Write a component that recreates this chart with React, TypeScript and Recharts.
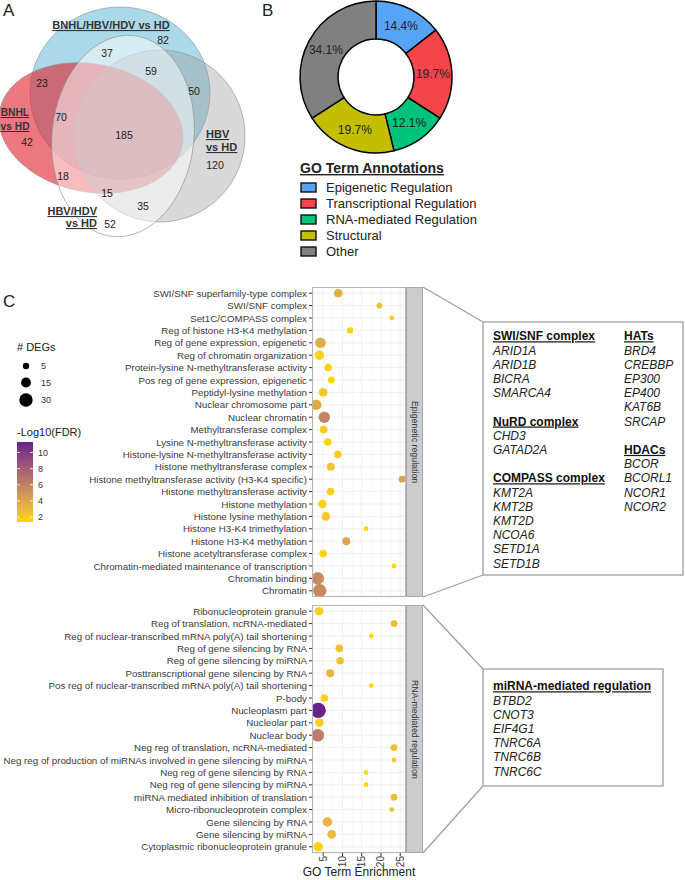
import React from 'react';
import {
  ScatterChart, Scatter, XAxis, YAxis, ZAxis, CartesianGrid, ReferenceLine, Cell,
  PieChart, Pie,
} from 'recharts';

const FONT = '"Liberation Sans", Arial, Helvetica, sans-serif';

// ---- Panel A: Venn diagram ----
const VENN_SETS = ['BNHL/HBV/HDV vs HD', 'BNHL vs HD', 'HBV vs HD', 'HBV/HDV vs HD'];
// region counts, in reading order
const VENN_COUNTS = [82, 37, 59, 23, 50, 70, 185, 42, 120, 18, 15, 35, 52];

// ---- Panel B: GO annotations donut ----
const GO_CATEGORIES = ['Epigenetic Regulation', 'Transcriptional Regulation', 'RNA-mediated Regulation', 'Structural', 'Other'];
const GO_PERCENT = [14.4, 19.7, 12.1, 19.7, 34.1];

// ---- Panel C: GO term dot plot ----
const EPI_TERMS = [
  'SWI/SNF superfamily-type complex',
  'SWI/SNF complex',
  'Set1C/COMPASS complex',
  'Reg of histone H3-K4 methylation',
  'Reg of gene expression, epigenetic',
  'Reg of chromatin organization',
  'Protein-lysine N-methyltransferase activity',
  'Pos reg of gene expression, epigenetic',
  'Peptidyl-lysine methylation',
  'Nuclear chromosome part',
  'Nuclear chromatin',
  'Methyltransferase complex',
  'Lysine N-methyltransferase activity',
  'Histone-lysine N-methyltransferase activity',
  'Histone methyltransferase complex',
  'Histone methyltransferase activity (H3-K4 specific)',
  'Histone methyltransferase activity',
  'Histone methylation',
  'Histone lysine methylation',
  'Histone H3-K4 trimethylation',
  'Histone H3-K4 methylation',
  'Histone acetyltransferase complex',
  'Chromatin-mediated maintenance of transcription',
  'Chromatin binding',
  'Chromatin',
];
const EPI_ENRICH = [8.9, 19.6, 22.8, 12.0, 4.3, 4.0, 6.3, 7.1, 5.0, 3.2, 5.3, 5.1, 6.2, 8.8, 7.0, 25.5, 6.9, 4.8, 5.7, 16.1, 11.0, 5.0, 23.4, 3.6, 4.1];
const EPI_DEGS = [11, 4, 2, 5, 18, 14, 8, 6, 11, 18, 21, 9, 8, 8, 9, 6, 8, 11, 11, 2, 9, 8, 2, 26, 30];
const EPI_FDR = [3.5, 2.5, 2.2, 1.7, 3.6, 1.6, 1.7, 1.4, 2.2, 3.8, 5.8, 2.2, 1.6, 2.0, 2.5, 4.3, 1.8, 1.7, 2.2, 1.4, 4.0, 1.6, 1.4, 5.5, 5.6];

const RNA_TERMS = [
  'Ribonucleoprotein granule',
  'Reg of translation, ncRNA-mediated',
  'Reg of nuclear-transcribed mRNA poly(A) tail shortening',
  'Reg of gene silencing by RNA',
  'Reg of gene silencing by miRNA',
  'Posttranscriptional gene silencing by RNA',
  'Pos reg of nuclear-transcribed mRNA poly(A) tail shortening',
  'P-body',
  'Nucleoplasm part',
  'Nucleolar part',
  'Nuclear body',
  'Neg reg of translation, ncRNA-mediated',
  'Neg reg of production of miRNAs involved in gene silencing by miRNA',
  'Neg reg of gene silencing by RNA',
  'Neg reg of gene silencing by miRNA',
  'miRNA mediated inhibition of translation',
  'Micro-ribonucleoprotein complex',
  'Gene silencing by RNA',
  'Gene silencing by miRNA',
  'Cytoplasmic ribonucleoprotein granule',
];
const RNA_ENRICH = [3.9, 23.4, 17.5, 9.2, 9.4, 6.8, 17.5, 5.3, 3.7, 4.0, 3.6, 23.4, 23.4, 16.1, 16.1, 23.4, 22.8, 6.1, 7.2, 3.7];
const RNA_DEGS = [11, 6, 2, 8, 8, 9, 2, 8, 40, 11, 26, 6, 2, 2, 2, 6, 2, 14, 11, 14];
const RNA_FDR = [1.9, 2.7, 1.4, 2.5, 2.5, 3.1, 1.4, 1.6, 11.3, 1.8, 6.3, 2.7, 2.2, 1.4, 1.4, 2.7, 2.6, 3.2, 3.0, 1.6];

const X_TICKS = [5, 10, 15, 20, 25];
const X_MINOR = [2.5, 7.5, 12.5, 17.5, 22.5];
const DEG_LEGEND = [5, 15, 30];
const FDR_LEGEND = [2, 4, 6, 8, 10];

const EPI_GENES_LEFT = [
  { title: 'SWI/SNF complex', genes: ['ARID1A', 'ARID1B', 'BICRA', 'SMARCA4'] },
  { title: 'NuRD complex', genes: ['CHD3', 'GATAD2A'] },
  { title: 'COMPASS complex', genes: ['KMT2A', 'KMT2B', 'KMT2D', 'NCOA6', 'SETD1A', 'SETD1B'] },
];
const EPI_GENES_RIGHT = [
  { title: 'HATs', genes: ['BRD4', 'CREBBP', 'EP300', 'EP400', 'KAT6B', 'SRCAP'] },
  { title: 'HDACs', genes: ['BCOR', 'BCORL1', 'NCOR1', 'NCOR2'] },
];
const RNA_GENES = [
  { title: 'miRNA-mediated regulation', genes: ['BTBD2', 'CNOT3', 'EIF4G1', 'TNRC6A', 'TNRC6B', 'TNRC6C'] },
];

// styling / layout
const GO_COLORS = ['#56A4F6', '#F5444A', '#00C27A', '#C4BE00', '#808080'];
const VENN_LABEL_POS = [
  [163, 40], [107, 53], [151, 71], [42, 83], [194, 91], [61, 117], [124, 135],
  [27, 142], [215, 165], [63, 176], [107, 193], [143, 206], [110, 224],
];
const PLOT_LEFT = 312;
const PLOT_RIGHT = 406;
const CHART_W = 425;
const X_DOMAIN = [2.1, 26.5];
const Z_DOMAIN = [0, 45];
const Z_RANGE = [10, 207];

// ggplot-like gradient (gold -> darkorchid4) interpolated in CIELAB
const LOW_RGB = [255, 215, 0];
const HIGH_RGB = [104, 34, 139];
const lin = (c: number) => { c /= 255; return c <= 0.04045 ? c / 12.92 : Math.pow((c + 0.055) / 1.055, 2.4); };
const unlin = (c: number) => {
  const v = c <= 0.0031308 ? 12.92 * c : 1.055 * Math.pow(c, 1 / 2.4) - 0.055;
  return Math.round(Math.max(0, Math.min(1, v)) * 255);
};
function toLab(rgb: number[]) {
  const [r, g, b] = rgb.map(lin);
  const x = (0.4124 * r + 0.3576 * g + 0.1805 * b) / 0.95047;
  const y = 0.2126 * r + 0.7152 * g + 0.0722 * b;
  const z = (0.0193 * r + 0.1192 * g + 0.9505 * b) / 1.08883;
  const f = (t: number) => (t > 0.008856 ? Math.cbrt(t) : 7.787 * t + 16 / 116);
  return [116 * f(y) - 16, 500 * (f(x) - f(y)), 200 * (f(y) - f(z))];
}
function fromLab([L, a, bb]: number[]) {
  const fy = (L + 16) / 116;
  const fx = fy + a / 500;
  const fz = fy - bb / 200;
  const inv = (t: number) => (t * t * t > 0.008856 ? t * t * t : (t - 16 / 116) / 7.787);
  const x = inv(fx) * 0.95047, y = inv(fy), z = inv(fz) * 1.08883;
  const r = 3.2406 * x - 1.5372 * y - 0.4986 * z;
  const g = -0.9689 * x + 1.8758 * y + 0.0415 * z;
  const b = 0.0557 * x - 0.204 * y + 1.057 * z;
  return `rgb(${unlin(r)},${unlin(g)},${unlin(b)})`;
}
const LOW_LAB = toLab(LOW_RGB);
const HIGH_LAB = toLab(HIGH_RGB);
const ALL_FDR = [...EPI_FDR, ...RNA_FDR];
const FDR_MIN = Math.min(...ALL_FDR) - 0.02;
const FDR_MAX = Math.max(...ALL_FDR);
function fdrColor(v: number) {
  const t = Math.max(0, Math.min(1, (v - FDR_MIN) / (FDR_MAX - FDR_MIN)));
  return fromLab(LOW_LAB.map((c, i) => c + (HIGH_LAB[i] - c) * t));
}
// same mapping as the ZAxis (linear in area), used for the size legend
const degRadius = (n: number) =>
  Math.sqrt((Z_RANGE[0] + ((Z_RANGE[1] - Z_RANGE[0]) * (n - Z_DOMAIN[0])) / (Z_DOMAIN[1] - Z_DOMAIN[0])) / Math.PI);

const epiData = EPI_TERMS.map((term, i) => ({ term, enrich: EPI_ENRICH[i], degs: EPI_DEGS[i], fdr: EPI_FDR[i] }));
const rnaData = RNA_TERMS.map((term, i) => ({ term, enrich: RNA_ENRICH[i], degs: RNA_DEGS[i], fdr: RNA_FDR[i] }));
const goData = GO_CATEGORIES.map((name, i) => ({ name, value: GO_PERCENT[i] }));

function RotatedTick(props: any) {
  const { x, y, payload } = props;
  const yy = y - 2;
  return (
    <text x={x} y={yy} transform={`rotate(-90 ${x} ${yy})`} textAnchor="end" dominantBaseline="central"
      fontSize={10} fill="#3D3D3D" fontFamily={FONT}>
      {payload.value}
    </text>
  );
}

function TermTick(props: any) {
  const { x, y, payload } = props;
  return (
    <text x={x} y={y} textAnchor="end" dominantBaseline="central" fontSize={9.75} fill="#3A3A3A" fontFamily={FONT}>
      {payload.value}
    </text>
  );
}

function Facet({ data, top, plotHeight, showX, strip }: any) {
  const axisH = showX ? 26 : 0;
  return (
    <>
      <div style={{ position: 'absolute', left: 0, top }}>
        <ScatterChart width={CHART_W} height={plotHeight + axisH}
          margin={{ top: 0, right: CHART_W - PLOT_RIGHT, bottom: 0, left: 0 }}>
          <CartesianGrid vertical={false} stroke="#EBEBEB" strokeWidth={0.8} />
          {X_MINOR.map((v) => <ReferenceLine key={'m' + v} x={v} stroke="#F2F2F2" strokeWidth={0.6} />)}
          {X_TICKS.map((v) => <ReferenceLine key={'t' + v} x={v} stroke="#EBEBEB" strokeWidth={0.8} />)}
          <XAxis type="number" dataKey="enrich" domain={X_DOMAIN} ticks={X_TICKS} interval={0} allowDataOverflow
            hide={!showX} height={axisH} tickSize={3} axisLine={false} tickLine={{ stroke: '#333' }}
            tick={<RotatedTick />}
            label={{ value: 'GO Term Enrichment', position: 'insideBottom', offset: 3.5, fill: '#222', fontSize: 12, fontFamily: FONT }} />
          <YAxis type="category" dataKey="term" width={PLOT_LEFT} reversed interval={0} tickSize={3}
            axisLine={false} tickLine={{ stroke: '#333' }} tick={<TermTick />} />
          <ZAxis type="number" dataKey="degs" domain={Z_DOMAIN} range={Z_RANGE} />
          <Scatter data={data} isAnimationActive={false} shape="circle">
            {data.map((d: any, i: number) => <Cell key={i} fill={fdrColor(d.fdr)} />)}
          </Scatter>
        </ScatterChart>
      </div>
      <div style={{ position: 'absolute', left: PLOT_LEFT, top, width: PLOT_RIGHT - PLOT_LEFT, height: plotHeight,
        border: '1px solid #B5B5B5', boxSizing: 'border-box' }} />
      <div style={{ position: 'absolute', left: PLOT_RIGHT, top, width: 17, height: plotHeight, background: '#CCCCCC',
        border: '1px solid #A8A8A8', boxSizing: 'border-box', display: 'flex', alignItems: 'center', justifyContent: 'center' }}>
        <span style={{ writingMode: 'vertical-rl', fontSize: 8.8, color: '#333', whiteSpace: 'nowrap' }}>{strip}</span>
      </div>
    </>
  );
}

function GeneColumn({ groups, x, y0, step }: any) {
  const rows: any[] = [];
  let line = 0;
  groups.forEach((g: any, gi: number) => {
    rows.push(
      <text key={'t' + gi} x={x} y={y0 + line * step} fontSize={12} fontWeight="bold" textDecoration="underline" fill="#111">{g.title}</text>,
    );
    line += 1;
    g.genes.forEach((gene: string) => {
      rows.push(<text key={gene} x={x} y={y0 + line * step} fontSize={12} fontStyle="italic" fill="#222">{gene}</text>);
      line += 1;
    });
    line += 1;
  });
  return <>{rows}</>;
}

function Overlay() {
  const ellStroke = '#8C8C8C';
  return (
    <svg width={685} height={880} style={{ position: 'absolute', left: 0, top: 0 }} fontFamily={FONT}>
      {/* panel letters */}
      <text x={3} y={16} fontSize={17} fill="#222">A</text>
      <text x={262} y={16} fontSize={17} fill="#222">B</text>
      <text x={3} y={307} fontSize={17} fill="#222">C</text>

      {/* Venn */}
      <ellipse cx={120} cy={93} rx={90} ry={86} fill="#5AB4D3" fillOpacity={0.5} stroke={ellStroke} strokeWidth={0.6} />
      <ellipse cx={91} cy={128} rx={93} ry={64} transform="rotate(11 91 128)" fill="#E0202B" fillOpacity={0.6} stroke={ellStroke} strokeWidth={0.6} />
      <ellipse cx={160} cy={136} rx={85} ry={86} fill="#9A9A9A" fillOpacity={0.38} stroke={ellStroke} strokeWidth={0.6} />
      <ellipse cx={123} cy={136} rx={71} ry={101} transform="rotate(6 123 136)" fill="#FFFFFF" fillOpacity={0.5} stroke={ellStroke} strokeWidth={0.6} />
      {VENN_COUNTS.map((c, i) => (
        <text key={i} x={VENN_LABEL_POS[i][0]} y={VENN_LABEL_POS[i][1] + 4} textAnchor="middle" fontSize={10.5} fill="#222">{c}</text>
      ))}
      <g fontSize={11} fontWeight="bold" fill="#333" textDecoration="underline">
        <text x={111} y={29} textAnchor="middle">{VENN_SETS[0]}</text>
        <text x={206} y={138}>{VENN_SETS[2].split(' vs ')[0]}</text>
        <text x={206} y={151}>vs HD</text>
        <text x={97} y={215} textAnchor="end">{VENN_SETS[3].split(' vs ')[0]}</text>
        <text x={97} y={227} textAnchor="end">vs HD</text>
      </g>
      <g fontSize={10.2} fontWeight="bold" fill="#333" textDecoration="underline">
        <text x={29} y={116} textAnchor="end">{VENN_SETS[1].split(' vs ')[0]}</text>
        <text x={29.5} y={130} textAnchor="end">vs HD</text>
      </g>

      {/* GO annotation legend */}
      <text x={300} y={173} fontSize={14} fontWeight="bold" textDecoration="underline" fill="#222">GO Term Annotations</text>
      {GO_CATEGORIES.map((name, i) => (
        <g key={name}>
          <rect x={301} y={183 + i * 16} width={15} height={9} fill={GO_COLORS[i]} stroke="#111" strokeWidth={1.4} />
          <text x={326} y={192 + i * 16} fontSize={13} fill="#222">{name}</text>
        </g>
      ))}

      {/* size legend */}
      <text x={17} y={351} fontSize={11} fill="#222"># DEGs</text>
      {DEG_LEGEND.map((n, i) => (
        <g key={n}>
          <circle cx={26} cy={[366, 382.5, 400][i]} r={degRadius(n)} fill="#000" />
          <text x={41} y={[366, 382.5, 400][i] + 3.2} fontSize={9} fill="#333">{n}</text>
        </g>
      ))}

      {/* colour legend */}
      <defs>
        <linearGradient id="fdrbar" x1="0" y1="0" x2="0" y2="1">
          {Array.from({ length: 11 }, (_, k) => (
            <stop key={k} offset={k / 10} stopColor={fdrColor(FDR_MAX - ((FDR_MAX - FDR_MIN) * k) / 10)} />
          ))}
        </linearGradient>
      </defs>
      <text x={17} y={435.5} fontSize={11} fill="#222">-Log10(FDR)</text>
      <rect x={17} y={442} width={16} height={80} fill="url(#fdrbar)" />
      {FDR_LEGEND.map((v) => {
        const y = 442 + ((FDR_MAX - v) / (FDR_MAX - FDR_MIN)) * 80;
        return (
          <g key={v}>
            <line x1={17} x2={20} y1={y} y2={y} stroke="#fff" strokeWidth={0.8} />
            <line x1={30} x2={33} y1={y} y2={y} stroke="#fff" strokeWidth={0.8} />
            <text x={38} y={y + 3.2} fontSize={9} fill="#333">{v}</text>
          </g>
        );
      })}

      {/* connectors and gene boxes */}
      <g stroke="#A0A0A0" strokeWidth={1.3} fill="none">
        <line x1={423} y1={287} x2={483} y2={322} />
        <line x1={423} y1={597} x2={483} y2={575} />
        <line x1={423} y1={605} x2={483} y2={669} />
        <line x1={423} y1={853} x2={483} y2={786} />
        <rect x={483} y={322} width={200} height={253} />
        <rect x={483} y={669} width={180} height={117} />
      </g>
      <GeneColumn groups={EPI_GENES_LEFT} x={493} y0={340.3} step={14.2} />
      <GeneColumn groups={EPI_GENES_RIGHT} x={624} y0={340.3} step={14.2} />
      <GeneColumn groups={RNA_GENES} x={493} y0={690.3} step={14.2} />
    </svg>
  );
}

function renderPieLabel(props: any) {
  const { cx, cy, midAngle, innerRadius, outerRadius, value } = props;
  const r = (innerRadius + outerRadius) / 2;
  const a = (-midAngle * Math.PI) / 180;
  return (
    <text x={cx + r * Math.cos(a)} y={cy + r * Math.sin(a)} textAnchor="middle" dominantBaseline="central"
      fontSize={12} fill="#222" fontFamily={FONT}>
      {value.toFixed(1)}%
    </text>
  );
}

export default function App() {
  return (
    <div style={{ position: 'absolute', left: 0, top: 0, width: 685, height: 880, background: '#fff', fontFamily: FONT, overflow: 'hidden' }}>
      <div style={{ position: 'absolute', left: 290, top: 0 }}>
        <PieChart width={180} height={158} margin={{ top: 0, right: 0, bottom: 0, left: 0 }}>
          <Pie data={goData} dataKey="value" nameKey="name" cx={86} cy={77} innerRadius={38} outerRadius={76}
            startAngle={90} endAngle={-270} stroke="#000" strokeWidth={1.5} isAnimationActive={false}
            label={renderPieLabel} labelLine={false}>
            {goData.map((d, i) => <Cell key={d.name} fill={GO_COLORS[i]} />)}
          </Pie>
        </PieChart>
      </div>
      <Facet data={epiData} top={287} plotHeight={310} showX={false} strip="Epigenetic regulation" />
      <Facet data={rnaData} top={605} plotHeight={248} showX strip="RNA-mediated regulation" />
      <Overlay />
    </div>
  );
}
